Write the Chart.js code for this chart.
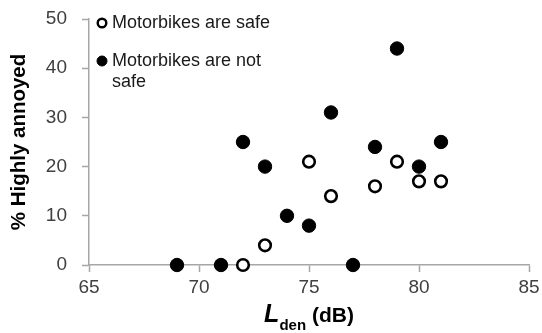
<!DOCTYPE html>
<html>
<head>
<meta charset="utf-8">
<script src="https://cdn.jsdelivr.net/npm/chart.js@4"></script>
<style>
  html, body { margin: 0; padding: 0; background: #fff; }
  #wrap { width: 542px; height: 333px; }
</style>
</head>
<body>
<div id="wrap"><canvas id="c" width="542" height="333"></canvas></div>
<script>
// Noise level (Lden, dB) vs. share of highly annoyed respondents
const safeLden = [72, 73, 75, 76, 78, 79, 80, 81];
const safeAnnoyed = [0, 4, 21, 14, 16, 21, 17, 17];
const notSafeLden = [69, 71, 72, 73, 74, 75, 76, 77, 78, 79, 80, 81];
const notSafeAnnoyed = [0, 0, 25, 20, 10, 8, 31, 0, 24, 44, 20, 25];
const seriesLabels = ['Motorbikes are safe', 'Motorbikes are not safe'];
const xTicks = [65, 70, 75, 80, 85];
const yTicks = [0, 10, 20, 30, 40, 50];

const FONT = "'Liberation Sans', Arial, sans-serif";
const AXIS_GREY = '#a6a6a6';

const toPoints = (xs, ys) => xs.map((x, i) => ({ x: x, y: ys[i] }));

// Legend drawn inside the plot area, with wrapped labels
const insideLegend = {
  id: 'insideLegend',
  afterDatasetsDraw(chart) {
    const ctx = chart.ctx;
    const area = chart.chartArea;
    const markerX = area.left + 13;
    const textX = area.left + 23;
    const maxW = 170;
    const lineH = 21;
    let y = area.top + 4;
    ctx.save();
    ctx.font = '18px ' + FONT;
    ctx.textBaseline = 'middle';
    ctx.textAlign = 'left';
    chart.data.datasets.forEach((ds) => {
      // wrap words
      const words = ds.label.split(' ');
      const lines = [];
      let cur = '';
      words.forEach((w) => {
        const test = cur ? cur + ' ' + w : w;
        if (ctx.measureText(test).width > maxW && cur) {
          lines.push(cur);
          cur = w;
        } else {
          cur = test;
        }
      });
      if (cur) lines.push(cur);

      // marker
      ctx.beginPath();
      ctx.arc(markerX, y, ds.legendRadius, 0, Math.PI * 2);
      ctx.fillStyle = ds.pointBackgroundColor;
      ctx.fill();
      ctx.lineWidth = ds.legendBorder;
      ctx.strokeStyle = ds.pointBorderColor;
      ctx.stroke();

      ctx.fillStyle = '#1a1a1a';
      lines.forEach((ln, i) => {
        ctx.fillText(ln, textX, y + i * lineH);
      });
      y += (lines.length - 1) * lineH + 38;
    });
    ctx.restore();
  }
};

// X axis title with a subscript: L_den (dB)
const xTitle = {
  id: 'xTitle',
  afterDraw(chart) {
    const ctx = chart.ctx;
    const area = chart.chartArea;
    const parts = [
      { t: 'L', f: 'italic bold 25px ' + FONT, dy: 0 },
      { t: 'den', f: 'bold 15px ' + FONT, dy: 8 },
      { t: ' (dB)', f: 'bold 21px ' + FONT, dy: 0 }
    ];
    ctx.save();
    ctx.textBaseline = 'alphabetic';
    ctx.textAlign = 'left';
    ctx.fillStyle = '#000';
    let total = 0;
    parts.forEach((p) => { ctx.font = p.f; p.w = ctx.measureText(p.t).width; total += p.w; });
    let x = (area.left + area.right) / 2 - total / 2;
    const base = 322;
    parts.forEach((p) => {
      ctx.font = p.f;
      ctx.fillText(p.t, x, base + p.dy);
      x += p.w;
    });
    ctx.restore();
  }
};

new Chart(document.getElementById('c'), {
  type: 'scatter',
  data: {
    datasets: [
      {
        label: seriesLabels[0],
        data: toPoints(safeLden, safeAnnoyed),
        pointRadius: 5.8,
        pointHoverRadius: 5.8,
        pointBorderWidth: 2.6,
        pointBackgroundColor: '#ffffff',
        pointBorderColor: '#000000',
        legendRadius: 4.3,
        legendBorder: 2.4,
        clip: false
      },
      {
        label: seriesLabels[1],
        data: toPoints(notSafeLden, notSafeAnnoyed),
        pointRadius: 6.7,
        pointHoverRadius: 6.7,
        pointBorderWidth: 1,
        pointBackgroundColor: '#000000',
        pointBorderColor: '#000000',
        legendRadius: 5,
        legendBorder: 1,
        clip: false
      }
    ]
  },
  options: {
    responsive: false,
    animation: false,
    devicePixelRatio: 1,
    layout: { padding: { left: 0, right: 13, top: 19, bottom: 0 } },
    plugins: {
      legend: { display: false },
      tooltip: { enabled: false }
    },
    scales: {
      x: {
        type: 'linear',
        min: xTicks[0],
        max: xTicks[xTicks.length - 1],
        afterBuildTicks: (s) => { s.ticks = xTicks.map((v) => ({ value: v })); },
        afterFit: (s) => { s.height = 68; s.paddingLeft = 0; s.paddingRight = 0; },
        border: { display: true, color: AXIS_GREY, width: 1.5 },
        grid: { drawOnChartArea: false, drawTicks: true, tickLength: 7, tickColor: AXIS_GREY, tickWidth: 1.5 },
        ticks: { color: '#404040', font: { family: FONT, size: 19 }, padding: 4 }
      },
      y: {
        type: 'linear',
        min: yTicks[0],
        max: yTicks[yTicks.length - 1],
        afterBuildTicks: (s) => { s.ticks = yTicks.map((v) => ({ value: v })); },
        afterFit: (s) => { s.width = 89; s.paddingTop = 0; s.paddingBottom = 0; },
        border: { display: true, color: AXIS_GREY, width: 1.5 },
        grid: { drawOnChartArea: false, drawTicks: true, tickLength: 7, tickColor: AXIS_GREY, tickWidth: 1.5 },
        ticks: { color: '#404040', font: { family: FONT, size: 19 }, padding: 15 },
        title: {
          display: true,
          text: '% Highly annoyed',
          color: '#000',
          font: { family: FONT, size: 20.5, weight: 'bold' },
          padding: { top: 7, bottom: 0 }
        }
      }
    }
  },
  plugins: [insideLegend, xTitle]
});
</script>
</body>
</html>
